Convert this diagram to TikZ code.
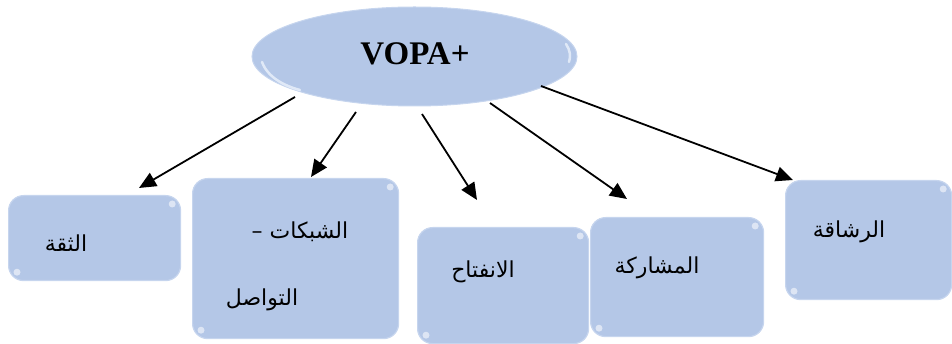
\documentclass[tikz,border=0pt]{standalone}
\usepackage{fontspec}
\setmainfont{Liberation Serif}
\newfontfamily\arabicfont[Script=Arabic]{DejaVu Sans}
\TeXXeTstate=1
\usetikzlibrary{arrows.meta,shapes.geometric}

\definecolor{cardblue}{RGB}{180,199,231}
\definecolor{cardedge}{RGB}{198,213,238}
\definecolor{cardshine}{RGB}{236,242,252}

\tikzset{
  card/.style={rectangle, rounded corners=15pt, fill=cardblue, draw=cardedge,
    line width=1.2pt, anchor=north west, inner sep=0pt},
  hub/.style={ellipse, fill=cardblue, draw=cardedge, line width=1pt,
    minimum width=325pt, minimum height=99pt, inner sep=0pt},
  label/.style={font=\arabicfont\fontsize{22}{26}\selectfont, inner sep=0pt},
  link/.style={line width=1.8pt, -{Triangle[length=17pt,width=15pt]}}
}

\begin{document}
\begin{tikzpicture}[x=1pt,y=-1pt]
\useasboundingbox (0,0) rectangle (952,344);

% central hub
\node[hub] (hub) at (414.5,56.5) {};
\node[font=\fontsize{33}{37}\selectfont\bfseries, inner sep=0pt] (hubtext) at (415,54) {VOPA+};
% soft highlights on the hub rim
\draw[cardshine, line width=2.5pt, line cap=round, opacity=0.8]
  (262,62) .. controls (268,78) and (285,86) .. (300,90);
\draw[cardshine, line width=2.5pt, line cap=round, opacity=0.8]
  (566,44) .. controls (570,50) and (571,56) .. (569,62);

% the five cards
\node[card, minimum width=172pt, minimum height=85pt]  (trust)   at (8,195)   {};
\node[card, minimum width=206pt, minimum height=160pt] (network) at (192,178) {};
\node[card, minimum width=171pt, minimum height=116pt] (open)    at (417,227) {};
\node[card, minimum width=173pt, minimum height=119pt] (share)   at (590,217) {};
\node[card, minimum width=166pt, minimum height=119pt] (agile)   at (785,180) {};

% small glossy corner spots
\foreach \c in {trust, network, open, share, agile}{
  \fill[white, opacity=0.55] ([xshift=-9pt,yshift=-9pt]\c.north east) circle (3.5pt);
  \fill[white, opacity=0.55] ([xshift=9pt,yshift=9pt]\c.south west) circle (3.5pt);
}

% card texts
\node[label] (t1)  at (66,243)  {\beginR الثقة\endR};
\node[label] (t2a) at (300,232) {\beginR الشبكات –\endR};
\node[label] (t2b) at (262,300) {\beginR التواصل\endR};
\node[label] (t3)  at (483,272) {\beginR الانفتاح\endR};
\node[label] (t4)  at (657,268) {\beginR المشاركة\endR};
\node[label] (t5)  at (849,232) {\beginR الرشاقة\endR};

% connector end points
\coordinate (s1) at (295,97);  \coordinate (e1) at (139,188);
\coordinate (s2) at (356,112); \coordinate (e2) at (311,177);
\coordinate (s3) at (422,114); \coordinate (e3) at (477,200);
\coordinate (s4) at (490,103); \coordinate (e4) at (627,199);
\coordinate (s5) at (541,86);  \coordinate (e5) at (793,180);

\draw[link] (s1) -- (e1);
\draw[link] (s2) -- (e2);
\draw[link] (s3) -- (e3);
\draw[link] (s4) -- (e4);
\draw[link] (s5) -- (e5);
\end{tikzpicture}
\end{document}
